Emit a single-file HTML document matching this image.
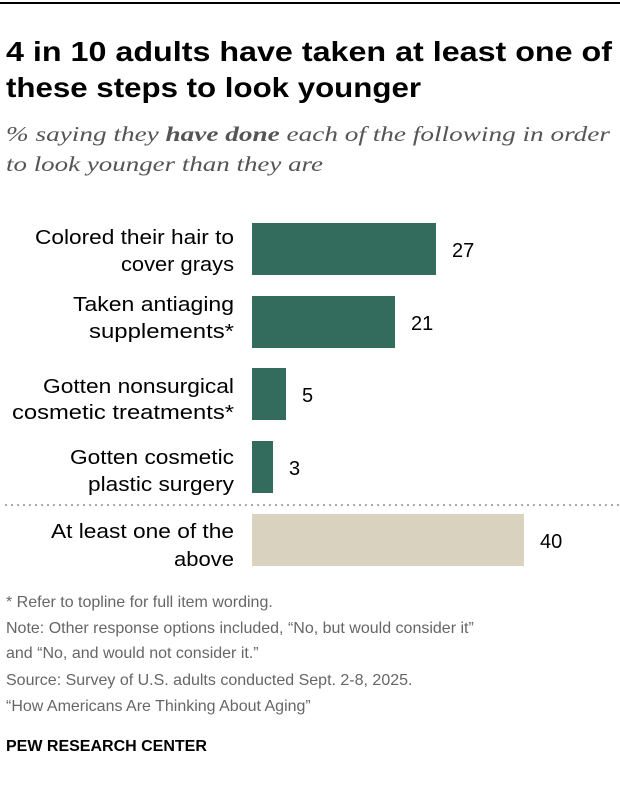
<!DOCTYPE html>
<html><head><meta charset="utf-8"><style>
body{margin:0;background:#fff;width:620px;height:792px;overflow:hidden}
svg{display:block}
</style></head><body>
<svg width="620" height="792" xmlns="http://www.w3.org/2000/svg">
<rect x="0" y="2" width="620" height="2" fill="#000"/>
<g font-family="Liberation Sans, sans-serif" font-weight="bold" font-size="28" fill="#000">
<text x="6" y="61" textLength="606" lengthAdjust="spacingAndGlyphs">4 in 10 adults have taken at least one of</text>
<text x="6" y="97" textLength="415" lengthAdjust="spacingAndGlyphs">these steps to look younger</text>
</g>
<g font-family="Liberation Serif, serif" font-style="italic" font-size="21" fill="#555">
<text x="6" y="141" textLength="604" lengthAdjust="spacingAndGlyphs">% saying they <tspan font-weight="bold">have done</tspan> each of the following in order</text>
<text x="6" y="171" textLength="317" lengthAdjust="spacingAndGlyphs">to look younger than they are</text>
</g>
<g fill="#336b5c">
<rect x="252" y="223" width="184" height="52"/>
<rect x="252" y="296" width="143" height="52"/>
<rect x="252" y="368" width="34" height="52"/>
<rect x="252" y="441" width="21" height="52"/>
</g>
<rect x="252" y="514" width="272" height="52" fill="#d8d2bf"/>
<line x1="5" y1="505" x2="620" y2="505" stroke="#aaa" stroke-width="2" stroke-dasharray="2,4"/>
<g font-family="Liberation Sans, sans-serif" font-size="20" fill="#000" text-anchor="end">
<text x="234" y="244" textLength="199" lengthAdjust="spacingAndGlyphs">Colored their hair to</text>
<text x="234" y="271" textLength="113" lengthAdjust="spacingAndGlyphs">cover grays</text>
<text x="234" y="311" textLength="161" lengthAdjust="spacingAndGlyphs">Taken antiaging</text>
<text x="234" y="338" textLength="145" lengthAdjust="spacingAndGlyphs">supplements*</text>
<text x="234" y="393" textLength="191" lengthAdjust="spacingAndGlyphs">Gotten nonsurgical</text>
<text x="234" y="419" textLength="222" lengthAdjust="spacingAndGlyphs">cosmetic treatments*</text>
<text x="234" y="464" textLength="164" lengthAdjust="spacingAndGlyphs">Gotten cosmetic</text>
<text x="234" y="491" textLength="146" lengthAdjust="spacingAndGlyphs">plastic surgery</text>
<text x="234" y="538" textLength="183" lengthAdjust="spacingAndGlyphs">At least one of the</text>
<text x="234" y="566" textLength="60" lengthAdjust="spacingAndGlyphs">above</text>
</g>
<g font-family="Liberation Sans, sans-serif" font-size="20" fill="#000">
<text x="452" y="257">27</text>
<text x="411" y="330">21</text>
<text x="302" y="402">5</text>
<text x="289" y="475">3</text>
<text x="540" y="548">40</text>
</g>
<g font-family="Liberation Sans, sans-serif" font-size="16" fill="#666">
<text x="6" y="607">* Refer to topline for full item wording.</text>
<text x="6" y="633">Note: Other response options included, “No, but would consider it”</text>
<text x="6" y="658">and “No, and would not consider it.”</text>
<text x="6" y="685">Source: Survey of U.S. adults conducted Sept. 2-8, 2025.</text>
<text x="6" y="711">“How Americans Are Thinking About Aging”</text>
</g>
<text x="6" y="751" font-family="Liberation Sans, sans-serif" font-weight="bold" font-size="16" fill="#000">PEW RESEARCH CENTER</text>
</svg>
</body></html>
